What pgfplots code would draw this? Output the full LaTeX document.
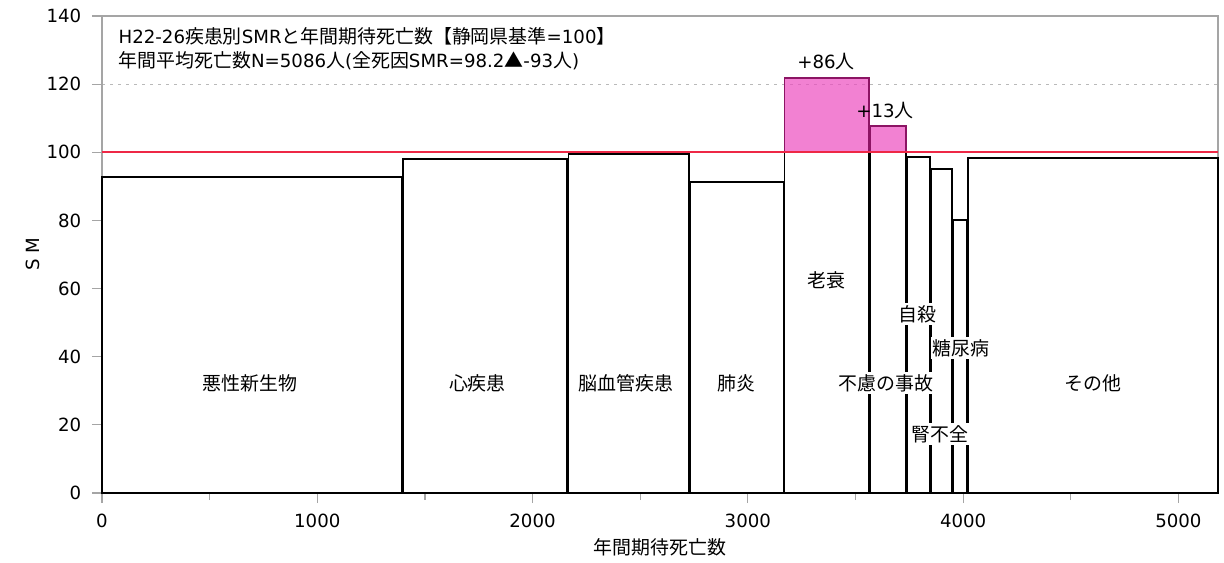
\documentclass[border=0pt]{standalone}
\usepackage{fontspec}
\setmainfont{Noto Sans CJK JP}
\newfontfamily\lat{DejaVu Sans}[Scale=0.96]
\usepackage{pgfplots}
\pgfplotsset{compat=1.18}
\begin{document}
\fontsize{9.5}{11}\selectfont
\begin{tikzpicture}
\definecolor{axGray}{RGB}{165,165,165}
\definecolor{gridGray}{RGB}{185,185,185}
\definecolor{excessPink}{RGB}{236,76,191}
\definecolor{excessEdge}{RGB}{140,20,100}
\definecolor{refRed}{RGB}{238,40,70}
\begin{axis}[
    scale only axis,
    width=558bp,
    height=238.5bp,
    xmin=0, xmax=5184,
    ymin=0, ymax=140,
    xtick={0,1000,2000,3000,4000,5000},
    minor xtick={500,1500,2500,3500,4500},
    ytick={0,20,...,140},
    tick align=outside,
    major tick length=5bp,
    minor tick length=3.5bp,
    tick style={axGray, line width=0.6bp},
    axis line style={axGray, line width=0.8bp},
    ymajorgrids,
    grid style={gridGray, dash pattern=on 1.5bp off 2.5bp, line width=0.6bp},
    xtick pos=bottom, ytick pos=left,
    /pgf/number format/assume math mode=true,
    scaled x ticks=false,
    ticklabel style={font=\lat},
    xticklabel style={/pgf/number format/set thousands separator={}, yshift=-2bp},
    yticklabel style={xshift=-2bp},
    xlabel={年間期待死亡数},
    ylabel={\lat S M},
    xlabel style={yshift=1bp},
    ylabel style={yshift=-3bp},
    clip=false,
    every axis plot/.append style={line width=0.9bp},
]
% bars: expected deaths (width) x SMR (height)
\addplot[draw=black, fill=white] coordinates {(0,0) (0,92.7) (1393.5,92.7) (1393.5,0)} --cycle;
\addplot[draw=black, fill=white] coordinates {(1398.5,0) (1398.5,98.0) (2161.5,98.0) (2161.5,0)} --cycle;
\addplot[draw=black, fill=white] coordinates {(2166.5,0) (2166.5,99.5) (2726.5,99.5) (2726.5,0)} --cycle;
\addplot[draw=black, fill=white] coordinates {(2731.5,0) (2731.5,91.3) (3165.5,91.3) (3165.5,0)} --cycle;
\addplot[draw=black, fill=white] coordinates {(3170.5,0) (3170.5,100) (3562.5,100) (3562.5,0)} --cycle;
\addplot[draw=black, fill=white] coordinates {(3567.5,0) (3567.5,100) (3734.5,100) (3734.5,0)} --cycle;
\addplot[draw=black, fill=white] coordinates {(3739.5,0) (3739.5,98.6) (3845.5,98.6) (3845.5,0)} --cycle;
\addplot[draw=black, fill=white] coordinates {(3850.5,0) (3850.5,95.2) (3947.5,95.2) (3947.5,0)} --cycle;
\addplot[draw=black, fill=white] coordinates {(3952.5,0) (3952.5,80.2) (4017.5,80.2) (4017.5,0)} --cycle;
\addplot[draw=black, fill=white] coordinates {(4022.5,0) (4022.5,98.4) (5184,98.4) (5184,0)} --cycle;
% excess over 100
\addplot[draw=excessEdge, fill=excessPink, fill opacity=0.7] coordinates {(3170.5,100) (3170.5,121.8) (3562.5,121.8) (3562.5,100)} --cycle;
\addplot[draw=excessEdge, fill=excessPink, fill opacity=0.7] coordinates {(3567.5,100) (3567.5,107.7) (3734.5,107.7) (3734.5,100)} --cycle;
% reference line
\addplot[refRed, line width=0.8bp] coordinates {(0,100) (5184,100)};

\node[anchor=west] at (axis cs:46,134.1) {{\lat H22-26}疾患別{\lat SMR}と年間期待死亡数【静岡県基準{\lat =100}】};
\node[anchor=west] at (axis cs:46,126.8) {年間平均死亡数{\lat N=5086}人{\lat (}全死因{\lat SMR=98.2}▲{\lat -93}人{\lat )}};

\node at (axis cs:688,32.3) {悪性新生物};
\node at (axis cs:1744,32.3) {心疾患};
\node at (axis cs:2433,32.3) {脳血管疾患};
\node at (axis cs:2949,32.3) {肺炎};
\node at (axis cs:3367,62.5) {老衰};
\node[fill=white, inner sep=1bp] at (axis cs:3642,32.3) {不慮の事故};
\node[fill=white, inner sep=1bp] at (axis cs:3786,52.5) {自殺};
\node[fill=white, inner sep=1bp] at (axis cs:3990,42.6) {糖尿病};
\node[fill=white, inner sep=1bp] at (axis cs:3893,17.3) {腎不全};
\node at (axis cs:4605,32.3) {その他};
\node at (axis cs:3363,126.5) {{\lat +86}人};
\node at (axis cs:3637,112.4) {{\lat +13}人};
\end{axis}
\path ([shift={(-51bp,-35bp)}]current axis.south west) rectangle ([shift={(3bp,8bp)}]current axis.north east);
\end{tikzpicture}
\end{document}
